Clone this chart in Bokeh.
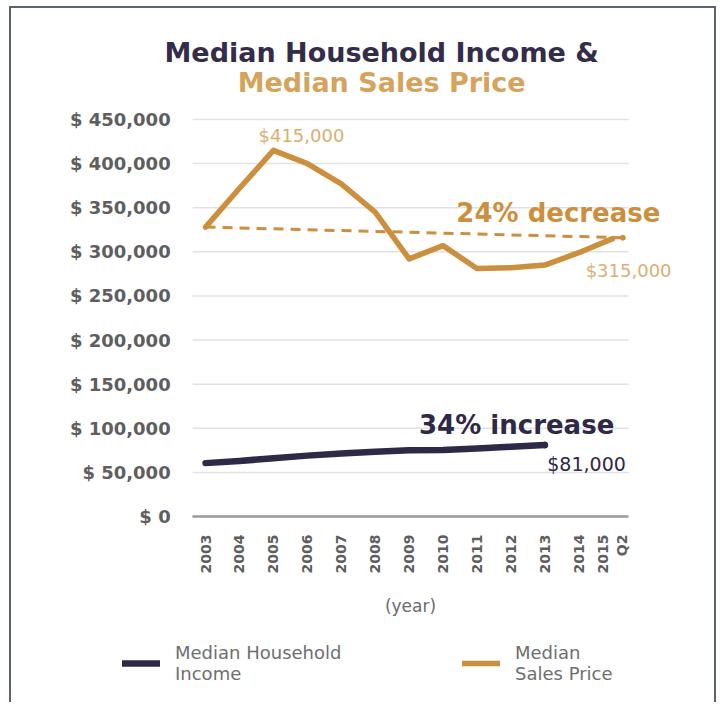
import math
from bokeh.plotting import figure
from bokeh.models import (Label, Legend, LegendItem, FixedTicker, Range1d, LinearAxis)
from bokeh.embed import file_html
from bokeh.resources import INLINE

# ---- data ----
years = [2003, 2004, 2005, 2006, 2007, 2008, 2009, 2010, 2011, 2012, 2013, 2014, 2015]
year_labels = ["2003", "2004", "2005", "2006", "2007", "2008", "2009", "2010", "2011", "2012", "2013", "2014", "2015\nQ2"]
sales_price = [328000, 372000, 415000, 400000, 377000, 345000, 292000, 307000, 281000, 282000, 285000, 299000, 315000]
income_years = [2003, 2004, 2005, 2006, 2007, 2008, 2009, 2010, 2011, 2012, 2013]
income = [60500, 63000, 66000, 69000, 71500, 73500, 75000, 75500, 77000, 79000, 81000]
trend_years = [2003, 2015.3]
trend_sales = [328000, 316000]
y_ticks = [0, 50000, 100000, 150000, 200000, 250000, 300000, 350000, 400000, 450000]

NAVY = "#2f2846"
ORANGE = "#cc8f3e"
LIGHT_OR = "#dcae72"
GRAY = "#5e5e5e"
FONT = "DejaVu Sans"

GX0, GX1 = 2002.62, 2015.47   # extent of the horizontal gridlines

p = figure(width=707, height=696, output_backend="svg", toolbar_location=None,
           x_range=Range1d(1997.28, 2018.12), y_range=Range1d(-213100, 575800),
           min_border=0, min_border_left=0, min_border_right=0, min_border_top=0, min_border_bottom=0,
           background_fill_color="white", border_fill_color="white",
           x_axis_location=None, y_axis_location=None)
p.styles = {"margin-left": "9px", "margin-top": "6px",
            "border-top": "2px solid #5b6371", "border-left": "2px solid #5b6371",
            "border-right": "2px solid #5b6371"}
p.outline_line_color = None
p.xgrid.visible = False
p.ygrid.visible = False

yaxis = LinearAxis(fixed_location=GX0)
yaxis.ticker = FixedTicker(ticks=y_ticks)
yaxis.major_label_overrides = {v: f"$ {v:,}" for v in y_ticks}
yaxis.axis_line_color = None
yaxis.major_tick_line_color = None
yaxis.minor_tick_line_color = None
yaxis.major_label_text_font = FONT
yaxis.major_label_text_font_style = "bold"
yaxis.major_label_text_font_size = "18px"
yaxis.major_label_text_color = GRAY
yaxis.major_label_standoff = 16
p.add_layout(yaxis, "left")

xaxis = LinearAxis(fixed_location=0, bounds=(GX0, GX1))
xaxis.ticker = FixedTicker(ticks=years)
xaxis.major_label_overrides = {y: l for y, l in zip(years, year_labels)}
xaxis.major_label_orientation = math.pi / 2
xaxis.axis_line_color = "#9a9a9a"
xaxis.axis_line_width = 2.5
xaxis.major_tick_line_color = None
xaxis.minor_tick_line_color = None
xaxis.major_label_text_font = FONT
xaxis.major_label_text_font_style = "bold"
xaxis.major_label_text_font_size = "14px"
xaxis.major_label_text_color = GRAY
xaxis.major_label_standoff = 12
xaxis.axis_label = "(year)"
xaxis.axis_label_text_font = FONT
xaxis.axis_label_text_font_style = "normal"
xaxis.axis_label_text_font_size = "17px"
xaxis.axis_label_text_color = "#6a6a6a"
xaxis.axis_label_standoff = 20
p.add_layout(xaxis, "below")

# gridlines (one per y tick above zero)
grid_y = y_ticks[1:]
p.segment(x0=[GX0] * len(grid_y), x1=[GX1] * len(grid_y), y0=grid_y, y1=grid_y,
          line_color="#e2e2e2", line_width=1.5)

# lines
p.line(trend_years, trend_sales, line_color=ORANGE, line_width=3, line_dash="10 7")
p.scatter([trend_years[-1]], [trend_sales[-1]], size=5, color=ORANGE)
r_sales = p.line(years, sales_price, line_color=ORANGE, line_width=5.5, line_join="round", line_cap="round")
r_inc = p.line(income_years, income, line_color=NAVY, line_width=6.5, line_join="round", line_cap="round")
p.scatter([income_years[-1]], [income[-1]], size=6, color=NAVY)

# annotations
def lab(x, y, text, color, size, style="normal", align="center"):
    p.add_layout(Label(x=x, y=y, text=text, text_color=color, text_font=FONT,
                       text_font_size=size, text_font_style=style, text_align=align,
                       text_baseline="middle"))

lab(2008.19, 526000, "Median Household Income &", "#342d4a", "27px", "bold")
lab(2008.19, 492000, "Median Sales Price", "#d6a35c", "27px", "bold")
lab(2004.56, 432000, "$415,000", LIGHT_OR, "18px", "normal", "left")
lab(2013.4, 343500, "24% decrease", ORANGE, "26px", "bold")
lab(2015.47, 279000, "$315,000", LIGHT_OR, "18px")
lab(2012.17, 104000, "34% increase", NAVY, "26px", "bold")
lab(2014.23, 60000, "$81,000", NAVY, "19px")

legend = Legend(items=[LegendItem(label="Median Household\nIncome", renderers=[r_inc]),
                       LegendItem(label="Median\nSales Price", renderers=[r_sales])],
                orientation="horizontal", location=(111, 20),
                glyph_width=38, glyph_height=20, label_standoff=15, spacing=37,
                label_text_font=FONT, label_text_font_size="18px", label_text_color="#6e6e6e",
                label_width=250, padding=0, margin=0, border_line_color=None,
                background_fill_alpha=0)
p.add_layout(legend)

open("out.html", "w").write(file_html(p, INLINE))
